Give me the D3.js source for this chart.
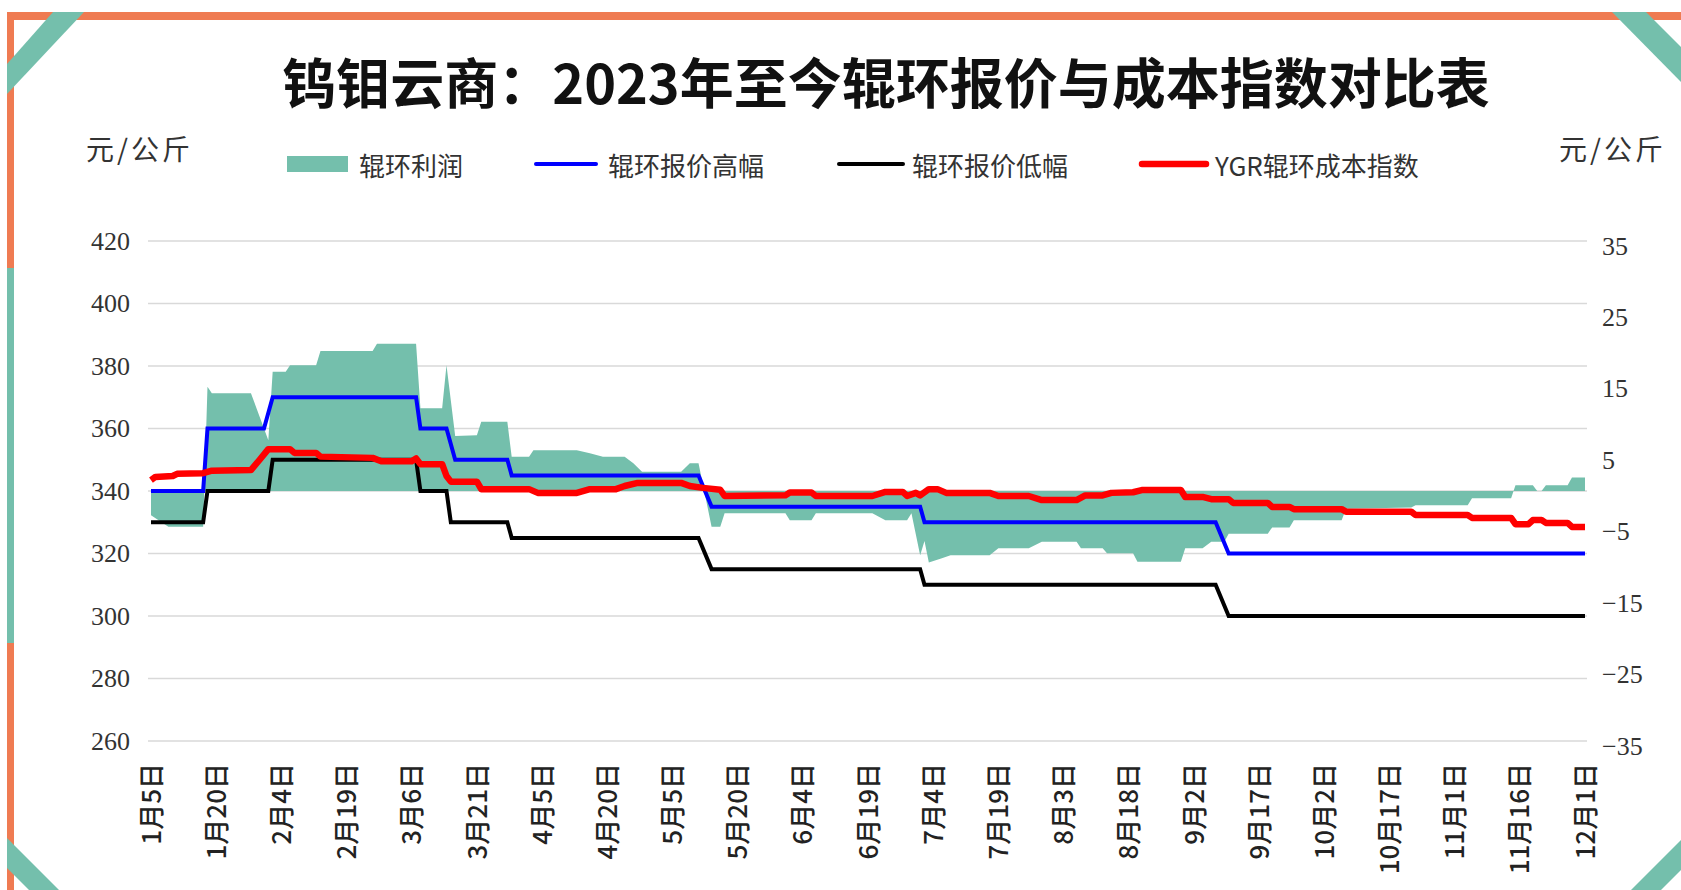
<!DOCTYPE html>
<html>
<head>
<meta charset="utf-8">
<script src="https://cdn.jsdelivr.net/npm/d3@7/dist/d3.min.js"></script>
<style>
  body { margin: 0; background: #fff; }
  svg { display: block; }
</style>
</head>
<body>
<script>
// 辊环报价高幅 (元/公斤)
const highDates = ['2023-01-05','2023-01-17','2023-01-18','2023-01-31','2023-02-02','2023-03-07','2023-03-08','2023-03-14','2023-03-16','2023-03-28','2023-03-29','2023-05-11','2023-05-14','2023-07-01','2023-07-02','2023-09-07','2023-09-10','2023-12-01'];
const highValues = [340,340,360,360,370,370,360,360,350,350,345,345,335,335,330,330,320,320];

// 辊环报价低幅 (元/公斤)
const lowDates = ['2023-01-05','2023-01-17','2023-01-18','2023-02-01','2023-02-02','2023-03-07','2023-03-08','2023-03-14','2023-03-15','2023-03-28','2023-03-29','2023-05-11','2023-05-14','2023-07-01','2023-07-02','2023-09-07','2023-09-10','2023-12-01'];
const lowValues = [330,330,340,340,350,350,340,340,330,330,325,325,315,315,310,310,300,300];

// YGR辊环成本指数 (元/公斤)
const costDates = ['2023-01-05','2023-01-06','2023-01-10','2023-01-11','2023-01-17','2023-01-19','2023-01-28','2023-01-30','2023-02-01','2023-02-06','2023-02-07','2023-02-12','2023-02-13','2023-02-25','2023-02-27','2023-03-06','2023-03-07','2023-03-08','2023-03-13','2023-03-14','2023-03-15','2023-03-21','2023-03-22','2023-04-02','2023-04-04','2023-04-13','2023-04-16','2023-04-22','2023-04-24','2023-04-27','2023-05-07','2023-05-09','2023-05-12','2023-05-16','2023-05-17','2023-05-31','2023-06-01','2023-06-06','2023-06-07','2023-06-20','2023-06-23','2023-06-27','2023-06-28','2023-06-30','2023-07-01','2023-07-03','2023-07-05','2023-07-07','2023-07-17','2023-07-19','2023-07-26','2023-07-29','2023-08-06','2023-08-08','2023-08-12','2023-08-14','2023-08-19','2023-08-21','2023-08-30','2023-08-31','2023-09-04','2023-09-06','2023-09-10','2023-09-11','2023-09-19','2023-09-20','2023-09-24','2023-09-25','2023-10-06','2023-10-07','2023-10-22','2023-10-23','2023-11-04','2023-11-05','2023-11-14','2023-11-15','2023-11-18','2023-11-19','2023-11-21','2023-11-22','2023-11-27','2023-11-28','2023-12-01'];
const costValues = [343.5,344.5,344.8,345.5,345.7,346.5,346.7,350.0,353.4,353.4,352.2,352.2,351.0,350.6,349.5,349.5,350.4,348.6,348.6,344.8,343.0,343.0,340.6,340.6,339.4,339.4,340.6,340.6,341.6,342.6,342.6,341.6,341.0,340.4,338.4,338.6,339.5,339.5,338.4,338.4,339.7,339.7,338.4,339.4,338.6,340.6,340.6,339.4,339.4,338.4,338.4,337.1,337.1,338.6,338.6,339.4,339.6,340.3,340.3,338.1,338.1,337.4,337.4,336.2,336.2,334.9,334.9,334.2,334.2,333.4,333.4,332.3,332.3,331.4,331.4,329.4,329.4,330.7,330.7,329.8,329.8,328.5,328.5];

// 辊环利润 (元/公斤, 右轴)
const profitDates = ['2023-01-05','2023-01-09','2023-01-17','2023-01-18','2023-01-19','2023-01-28','2023-02-01','2023-02-02','2023-02-05','2023-02-06','2023-02-12','2023-02-13','2023-02-25','2023-02-26','2023-03-07','2023-03-08','2023-03-13','2023-03-14','2023-03-16','2023-03-21','2023-03-22','2023-03-28','2023-03-29','2023-04-02','2023-04-03','2023-04-13','2023-04-16','2023-04-19','2023-04-24','2023-04-26','2023-04-28','2023-05-07','2023-05-09','2023-05-11','2023-05-14','2023-05-16','2023-05-17','2023-05-31','2023-06-01','2023-06-06','2023-06-07','2023-06-20','2023-06-23','2023-06-28','2023-06-29','2023-07-01','2023-07-02','2023-07-03','2023-07-06','2023-07-08','2023-07-17','2023-07-19','2023-07-26','2023-07-29','2023-08-06','2023-08-07','2023-08-12','2023-08-13','2023-08-19','2023-08-20','2023-08-30','2023-08-31','2023-09-04','2023-09-06','2023-09-09','2023-09-10','2023-09-19','2023-09-20','2023-09-24','2023-09-25','2023-10-06','2023-10-07','2023-10-22','2023-10-23','2023-11-04','2023-11-05','2023-11-14','2023-11-15','2023-11-19','2023-11-20','2023-11-21','2023-11-22','2023-11-27','2023-11-28','2023-12-01'];
const profitValues = [-3.4,-5.0,-5.0,14.6,13.7,13.7,7.1,16.7,16.7,17.6,17.6,19.6,19.6,20.6,20.6,11.6,11.6,17.6,7.7,7.8,9.7,9.7,4.8,4.8,5.7,5.7,5.3,4.8,4.8,3.9,2.7,2.7,3.9,3.9,-5.0,-5.0,-3.1,-3.1,-4.1,-4.1,-3.1,-3.1,-4.1,-4.1,-3.1,-9.0,-7.0,-10.0,-9.4,-9.0,-9.0,-8.0,-8.0,-7.1,-7.1,-8.0,-8.0,-8.7,-8.7,-9.9,-9.9,-8.0,-8.0,-7.1,-7.1,-6.0,-6.0,-5.1,-5.1,-4.1,-4.1,-2.5,-2.3,-2.0,-2.0,-1.0,-1.0,0.8,0.8,0.0,0.0,0.8,0.8,1.9,1.9];

// 坐标轴刻度
const xTickDates = ['2023-01-05','2023-01-20','2023-02-04','2023-02-19','2023-03-06','2023-03-21','2023-04-05','2023-04-20','2023-05-05','2023-05-20','2023-06-04','2023-06-19','2023-07-04','2023-07-19','2023-08-03','2023-08-18','2023-09-02','2023-09-17','2023-10-02','2023-10-17','2023-11-01','2023-11-16','2023-12-01'];
const leftTicks = [260, 280, 300, 320, 340, 360, 380, 400, 420];
const rightTicks = [-35, -25, -15, -5, 5, 15, 25, 35];

const titleText = '钨钼云商：2023年至今辊环报价与成本指数对比表';
const unitText = '元/公斤';
const legendNames = ['辊环利润', '辊环报价高幅', '辊环报价低幅', 'YGR辊环成本指数'];

const W = 1681, H = 890;
const orange = '#ef7b52', teal = '#74bfac';
const parse = d3.timeParse('%Y-%m-%d');
const fmt = d3.timeFormat('%-m月%-d日');

const svg = d3.select('body').append('svg').attr('width', W).attr('height', H);

/**
 * 边框装饰
 */
svg.append('rect').attr('x', 7).attr('y', 12).attr('width', W - 7).attr('height', 8).attr('fill', orange);
svg.append('rect').attr('x', 7).attr('y', 12).attr('width', 7).attr('height', H - 12).attr('fill', orange);
svg.append('rect').attr('x', 7).attr('y', 268).attr('width', 7).attr('height', 375).attr('fill', teal);
const corners = [
  [[7, 64], [53, 12], [84, 12], [7, 94]],
  [[1612, 12], [1646, 12], [1681, 47], [1681, 82]],
  [[7, 838], [59, 890], [29, 890], [7, 868]],
  [[1681, 840], [1631, 890], [1661, 890], [1681, 870]]
];
svg.selectAll('.corner').data(corners).join('polygon')
  .attr('points', d => d.map(p => p.join(',')).join(' '))
  .attr('fill', teal);

/**
 * 标题
 */
svg.append('text')
  .attr('x', 886).attr('y', 80)
  .attr('text-anchor', 'middle').attr('dominant-baseline', 'central')
  .style('font-family', '"Noto Sans CJK SC", sans-serif')
  .style('font-weight', 700).style('font-size', '54px').style('fill', '#111')
  .text(titleText);

/**
 * 比例尺
 */
const x = d3.scaleTime().domain([parse('2023-01-05'), parse('2023-12-01')]).range([151, 1585]);
const yL = d3.scaleLinear().domain([260, 420]).range([741, 241]);
const yR = d3.scaleLinear().domain([-35, 35]).range([741, 241]);

// 网格线
svg.append('g').selectAll('line').data(leftTicks).join('line')
  .attr('x1', 148).attr('x2', 1587)
  .attr('y1', d => yL(d)).attr('y2', d => yL(d))
  .style('stroke', '#d9d9d9').style('stroke-width', 1.5);

// 左轴
const leftAxis = svg.append('g').attr('transform', 'translate(130,0)')
  .call(d3.axisLeft(yL).tickValues(leftTicks).tickSize(0).tickPadding(0));
leftAxis.select('.domain').remove();
leftAxis.selectAll('text')
  .style('font-family', '"Liberation Serif", serif').style('font-size', '26px').style('fill', '#333');

// 右轴
const rightAxis = svg.append('g').attr('transform', 'translate(1602,0)')
  .call(d3.axisRight(yR).tickValues(rightTicks).tickSize(0).tickPadding(0).tickFormat(d => d < 0 ? '\u2212' + (-d) : d));
rightAxis.select('.domain').remove();
rightAxis.selectAll('text')
  .attr('dy', '0.5em')
  .style('font-family', '"Liberation Serif", serif').style('font-size', '26px').style('fill', '#333');

// x轴
const xAxis = svg.append('g').attr('transform', 'translate(0,763)')
  .call(d3.axisBottom(x).tickValues(xTickDates.map(parse)).tickFormat(fmt).tickSize(0).tickPadding(0));
xAxis.select('.domain').remove();
xAxis.selectAll('text')
  .attr('transform', 'rotate(-90)')
  .attr('x', 0).attr('y', 0).attr('dy', '0.35em')
  .attr('text-anchor', 'end')
  .style('font-family', '"Noto Sans CJK SC", sans-serif').style('font-size', '26px').style('font-weight', 500).style('fill', '#222');

// 单位
[[86, 'start'], [1666, 'end']].forEach(([ux, anchor]) => {
  svg.append('text').attr('x', ux).attr('y', 148)
    .attr('text-anchor', anchor).attr('dominant-baseline', 'central')
    .style('font-family', '"Noto Sans CJK SC", sans-serif').style('font-size', '28px').style('letter-spacing', '3px').style('fill', '#333')
    .text(unitText);
});

/**
 * 数据
 */
const zip = (ds, vs) => ds.map((d, i) => ({ date: parse(d), v: vs[i] }));
const profit = zip(profitDates, profitValues);
const high = zip(highDates, highValues);
const low = zip(lowDates, lowValues);
const cost = zip(costDates, costValues);

const areaGen = d3.area().x(d => x(d.date)).y0(yR(0)).y1(d => yR(d.v));
svg.append('path').attr('d', areaGen(profit)).style('fill', teal);

const lineL = d3.line().x(d => x(d.date)).y(d => yL(d.v));
svg.append('path').attr('d', lineL(high)).style('fill', 'none').style('stroke', '#0000ff').style('stroke-width', 4);
svg.append('path').attr('d', lineL(low)).style('fill', 'none').style('stroke', '#000').style('stroke-width', 4);
svg.append('path').attr('d', lineL(cost)).style('fill', 'none').style('stroke', '#ff0000').style('stroke-width', 6.5).style('stroke-linejoin', 'round');

/**
 * 图例
 */
const legendY = 164;
const lg = svg.append('g').style('font-family', '"Noto Sans CJK SC", sans-serif').style('font-size', '26px').style('fill', '#333');
lg.append('rect').attr('x', 287).attr('y', legendY - 8).attr('width', 61).attr('height', 16).style('fill', teal);
[[536, 596, '#0000ff', 4], [839, 903, '#000', 4], [1142, 1206, '#ff0000', 6.5]].forEach(([a, b, c, w]) => {
  lg.append('line').attr('x1', a).attr('x2', b).attr('y1', legendY).attr('y2', legendY)
    .style('stroke', c).style('stroke-width', w).style('stroke-linecap', 'round');
});
[359, 608, 912, 1215].forEach((tx, i) => {
  lg.append('text').attr('x', tx).attr('y', legendY).attr('dominant-baseline', 'central').text(legendNames[i]);
});
</script>
</body>
</html>
